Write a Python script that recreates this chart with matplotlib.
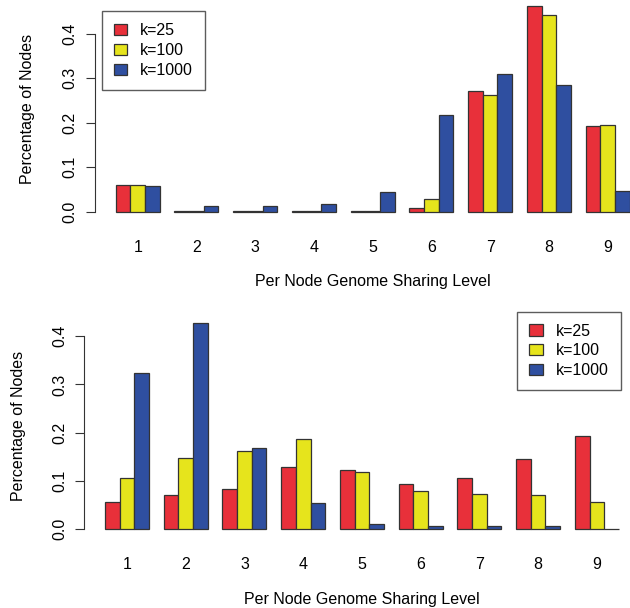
import numpy as np
import matplotlib.pyplot as plt

plt.rcParams['font.family'] = ['Liberation Sans', 'DejaVu Sans']

levels = ['1', '2', '3', '4', '5', '6', '7', '8', '9']
series = ['k=25', 'k=100', 'k=1000']
colors = ['#e8303a', '#e6e41c', '#2f4fa0']

# top panel
top_k25 = [0.061, 0.002, 0.002, 0.001, 0.001, 0.009, 0.271, 0.461, 0.192]
top_k100 = [0.060, 0.002, 0.002, 0.002, 0.002, 0.028, 0.262, 0.442, 0.196]
top_k1000 = [0.057, 0.014, 0.014, 0.018, 0.044, 0.218, 0.309, 0.284, 0.047]

# bottom panel
bot_k25 = [0.056, 0.071, 0.084, 0.130, 0.122, 0.093, 0.107, 0.146, 0.193]
bot_k100 = [0.106, 0.148, 0.163, 0.186, 0.119, 0.080, 0.073, 0.070, 0.057]
bot_k1000 = [0.324, 0.427, 0.169, 0.054, 0.010, 0.006, 0.006, 0.006, 0.001]


def barpanel(ax, data, leg_anchor, leg_loc, ylab_x):
    n = len(levels)
    # R barplot(beside=TRUE) layout: bar width 1, one-bar gap between groups
    starts = np.arange(n) * 4 + 1
    for j, vals in enumerate(data):
        ax.bar(starts + j, vals, width=1, align='edge', color=colors[j],
               edgecolor='#333333', linewidth=0.9, label=series[j])
    ymax = max(max(v) for v in data)
    ax.set_xlim(-0.4, 37.4)
    ax.set_ylim(-0.04 * ymax, 1.04 * ymax)
    ax.set_xticks(starts + 1.5)
    ax.set_xticklabels(levels)
    ax.set_yticks([0, 0.1, 0.2, 0.3, 0.4])
    ax.set_yticklabels(['0.0', '0.1', '0.2', '0.3', '0.4'], rotation=90, va='center')
    for s in ['top', 'right', 'bottom']:
        ax.spines[s].set_visible(False)
    ax.spines['left'].set_bounds(0, 0.4)
    ax.spines['left'].set_color('#333333')
    ax.tick_params(axis='x', length=0, pad=14, labelsize=11.5)
    ax.tick_params(axis='y', length=6.5, pad=6, labelsize=11.5, color='#333333')
    ax.set_ylabel('Percentage of Nodes', fontsize=11.5, va='center')
    ax.yaxis.set_label_coords(ylab_x, 0.5)
    ax.set_xlabel('Per Node Genome Sharing Level', fontsize=11.5, va='center')
    ax.xaxis.set_label_coords(0.5, -0.277)
    leg = ax.legend(loc=leg_loc, bbox_to_anchor=leg_anchor, fancybox=False,
                    edgecolor='#333333', fontsize=11.5, handlelength=0.85,
                    handleheight=0.7, handletextpad=0.8, labelspacing=0.3,
                    borderpad=0.75, borderaxespad=0)
    leg.get_frame().set_linewidth(1.0)


fig = plt.figure(figsize=(6.3, 6.08), dpi=100)
ax1 = fig.add_axes([0.151, 0.638, 0.881, 0.365])
ax2 = fig.add_axes([0.134, 0.116, 0.881, 0.366])

barpanel(ax1, [top_k25, top_k100, top_k1000], (0.012, 0.941), 'upper left', -0.121)
barpanel(ax2, [bot_k25, bot_k100, bot_k1000], (0.966, 1.015), 'upper right', -0.119)

fig.savefig('out.png', dpi=100)
